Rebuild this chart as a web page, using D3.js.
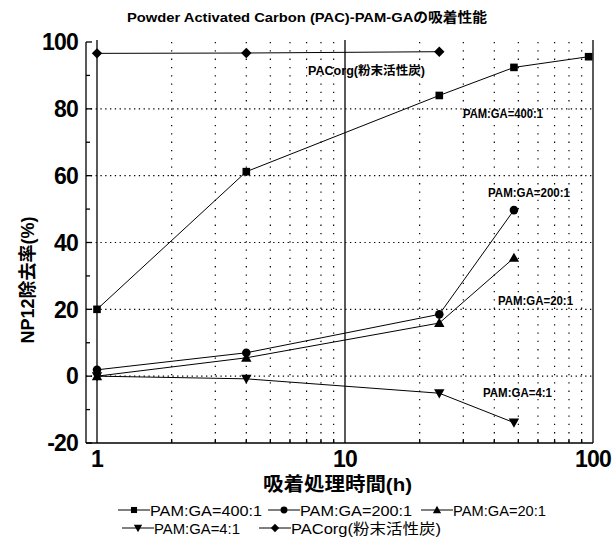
<!DOCTYPE html>
<html>
<head>
<meta charset="utf-8">
<script src="https://cdn.jsdelivr.net/npm/d3@7/dist/d3.min.js"></script>
<style>
  html, body { margin: 0; padding: 0; background: #fff; }
  svg { display: block; }
  text { font-family: "Liberation Sans", Arial, "Noto Sans CJK JP", sans-serif; fill: #000; }
</style>
</head>
<body>
<svg id="chart" width="613" height="541"></svg>
<script>
// Adsorption time (h) and NP12 removal (%) for each adsorbent
const hours400 = [1, 4, 24, 48, 96];
const pam400 = [20, 61.2, 84, 92.4, 95.6];
const hours200 = [1, 4, 24, 48];
const pam200 = [1.9, 7.0, 18.5, 49.7];
const hours20 = [1, 4, 24, 48];
const pam20 = [0, 5.5, 15.9, 35.4];
const hours4 = [1, 4, 24, 48];
const pam4 = [0, -0.8, -5.1, -13.9];
const hoursPac = [1, 4, 24];
const pacOrg = [96.6, 96.7, 97.1];

const seriesNames = ["PAM:GA=400:1", "PAM:GA=200:1", "PAM:GA=20:1", "PAM:GA=4:1", "PACorg(粉末活性炭)"];
const markerKinds = ["square", "circle", "triangle", "triangleDown", "diamond"];

const xMajorTicks = [1, 10, 100];
const xMinorTicks = [2, 3, 4, 5, 6, 7, 8, 9, 20, 30, 40, 50, 60, 70, 80, 90];
const yMajorTicks = [-20, 0, 20, 40, 60, 80, 100];
const yMinorTicks = [-10, 10, 30, 50, 70, 90];
const yGridTicks = [0, 20, 40, 60, 80];

const titleText = "Powder Activated Carbon (PAC)-PAM-GAの吸着性能";
const xTitle = "吸着処理時間(h)";
const yTitle = "NP12除去率(%)";

const svg = d3.select("#chart");
const x = d3.scaleLog().domain([1, 100]).range([97, 593]);
const y = d3.scaleLinear().domain([-20, 100]).range([443, 42]);
const frameLeft = x(1) - 11;

const series = [
  { name: seriesNames[0], kind: markerKinds[0], xs: hours400, ys: pam400 },
  { name: seriesNames[1], kind: markerKinds[1], xs: hours200, ys: pam200 },
  { name: seriesNames[2], kind: markerKinds[2], xs: hours20, ys: pam20 },
  { name: seriesNames[3], kind: markerKinds[3], xs: hours4, ys: pam4 },
  { name: seriesNames[4], kind: markerKinds[4], xs: hoursPac, ys: pacOrg }
];

// marker shapes centred on the origin
function markerPath(kind) {
  const p = d3.path();
  if (kind === "square") { p.rect(-3.8, -3.8, 7.6, 7.6); }
  else if (kind === "circle") { p.arc(0, 0, 4.3, 0, 2 * Math.PI); }
  else if (kind === "triangle") { p.moveTo(0, -5.2); p.lineTo(5.2, 4); p.lineTo(-5.2, 4); p.closePath(); }
  else if (kind === "triangleDown") { p.moveTo(0, 5.2); p.lineTo(5.2, -4); p.lineTo(-5.2, -4); p.closePath(); }
  else if (kind === "diamond") { p.moveTo(0, -5.2); p.lineTo(5.2, 0); p.lineTo(0, 5.2); p.lineTo(-5.2, 0); p.closePath(); }
  return p.toString();
}

// dotted grid
const grid = svg.append("g");
grid.selectAll("line.vg").data(xMinorTicks).join("line")
  .attr("x1", d => x(d)).attr("x2", d => x(d))
  .attr("y1", y(100)).attr("y2", y(-20))
  .attr("stroke", "#000").attr("stroke-width", 1.2)
  .attr("stroke-dasharray", "1.3,7");
grid.selectAll("line.hg").data(yGridTicks).join("line")
  .attr("x1", frameLeft).attr("x2", x(100))
  .attr("y1", d => y(d)).attr("y2", d => y(d))
  .attr("stroke", "#000").attr("stroke-width", 1.2)
  .attr("stroke-dasharray", "1.3,3.5");
// solid decade lines
grid.selectAll("line.dec").data(xMajorTicks).join("line")
  .attr("x1", d => x(d)).attr("x2", d => x(d))
  .attr("y1", y(100) - 2).attr("y2", y(-20))
  .attr("stroke", "#000").attr("stroke-width", 1.3);

// axes frame
const axes = svg.append("g").attr("stroke", "#000").attr("stroke-width", 1.3);
axes.append("line").attr("x1", frameLeft).attr("x2", frameLeft).attr("y1", y(100)).attr("y2", y(-20));
axes.append("line").attr("x1", frameLeft).attr("x2", x(100)).attr("y1", y(-20)).attr("y2", y(-20));
axes.selectAll("line.ymaj").data(yMajorTicks).join("line")
  .attr("x1", frameLeft).attr("x2", frameLeft + 6).attr("y1", d => y(d)).attr("y2", d => y(d));
axes.selectAll("line.ymin").data(yMinorTicks).join("line")
  .attr("x1", frameLeft).attr("x2", frameLeft + 4).attr("y1", d => y(d)).attr("y2", d => y(d));
axes.selectAll("line.xmin").data(xMinorTicks).join("line")
  .attr("x1", d => x(d)).attr("x2", d => x(d)).attr("y1", y(-20)).attr("y2", y(-20) - 4);

// tick labels
svg.append("g").selectAll("text").data(yMajorTicks).join("text")
  .attr("x", frameLeft - 8).attr("y", d => y(d)).attr("dy", "0.36em")
  .attr("text-anchor", "end").attr("font-size", 23).attr("font-weight", "bold")
  .attr("letter-spacing", -0.8)
  .text(d => d);
svg.append("g").selectAll("text").data(xMajorTicks).join("text")
  .attr("x", d => x(d)).attr("y", 467)
  .attr("text-anchor", "middle").attr("font-size", 23).attr("font-weight", "bold")
  .attr("letter-spacing", -0.8)
  .text(d => d);

// titles
svg.append("text").attr("x", 127).attr("y", 22)
  .attr("font-size", 13.5).attr("font-weight", "bold")
  .attr("textLength", 360).attr("lengthAdjust", "spacingAndGlyphs")
  .text(titleText);
svg.append("text").attr("x", 263).attr("y", 491)
  .attr("font-size", 19).attr("font-weight", "bold")
  .attr("textLength", 149).attr("lengthAdjust", "spacingAndGlyphs")
  .text(xTitle);
svg.append("text").attr("transform", "translate(34,280) rotate(-90)")
  .attr("text-anchor", "middle").attr("font-size", 18).attr("font-weight", "bold")
  .text(yTitle);

// series lines and markers
const line = d3.line().x(d => x(d[0])).y(d => y(d[1]));
const plot = svg.append("g");
series.forEach(s => {
  const pts = s.xs.map((h, i) => [h, s.ys[i]]);
  plot.append("path").attr("d", line(pts)).attr("fill", "none")
    .attr("stroke", "#000").attr("stroke-width", 1);
  plot.selectAll(null).data(pts).join("path")
    .attr("transform", d => `translate(${x(d[0])},${y(d[1])})`)
    .attr("d", markerPath(s.kind)).attr("fill", "#000");
});

// in-plot series labels
const annot = [
  { text: seriesNames[4], x: 308, y: 75, w: 117 },
  { text: seriesNames[0], x: 463, y: 118, w: 80 },
  { text: seriesNames[1], x: 488, y: 197, w: 82 },
  { text: seriesNames[2], x: 498, y: 305, w: 75 },
  { text: seriesNames[3], x: 483, y: 397, w: 69 }
];
svg.append("g").selectAll("text").data(annot).join("text")
  .attr("x", d => d.x).attr("y", d => d.y)
  .attr("font-size", 12).attr("font-weight", "bold")
  .attr("textLength", d => d.w).attr("lengthAdjust", "spacingAndGlyphs")
  .text(d => d.text);

// legend
const legendItems = [
  { i: 0, lx: 118, ly: 510, tw: 112 },
  { i: 1, lx: 268, ly: 510, tw: 112 },
  { i: 2, lx: 421, ly: 510, tw: 93 },
  { i: 3, lx: 122, ly: 528, tw: 86 },
  { i: 4, lx: 259, ly: 528, tw: 150 }
];
const leg = svg.append("g");
legendItems.forEach(it => {
  const s = series[it.i];
  leg.append("line").attr("x1", it.lx).attr("x2", it.lx + 32)
    .attr("y1", it.ly).attr("y2", it.ly).attr("stroke", "#000").attr("stroke-width", 1);
  leg.append("path").attr("transform", `translate(${it.lx + 16},${it.ly}) scale(0.8)`)
    .attr("d", markerPath(s.kind)).attr("fill", "#000");
  leg.append("text").attr("x", it.lx + 32).attr("y", it.ly + 5.5)
    .attr("font-size", 14.5)
    .attr("textLength", it.tw).attr("lengthAdjust", "spacingAndGlyphs")
    .text(s.name);
});
</script>
</body>
</html>
